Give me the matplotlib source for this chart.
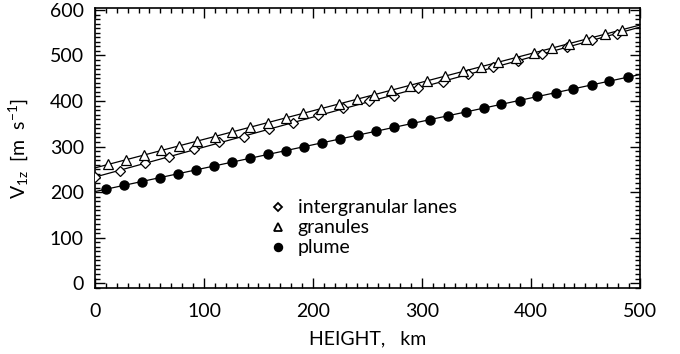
import numpy as np
import matplotlib
matplotlib.use('Agg')
import matplotlib.pyplot as plt
from matplotlib.ticker import MultipleLocator

# heights (km) and velocities (m/s)
gran_x = [12, 28, 45, 61, 77, 94, 110, 126, 142, 159, 175, 191, 207, 224, 240,
          256, 272, 289, 305, 321, 338, 354, 370, 386, 403, 419, 435, 451, 468, 484]
gran_y = [261, 271, 281, 292, 301, 312, 322, 333, 342, 352, 363, 373, 383, 394, 404,
          414, 424, 434, 444, 455, 465, 475, 486, 495, 506, 516, 526, 536, 547, 557]

inter_x = [0, 23, 46, 68, 91, 114, 137, 160, 182, 205, 228,
           251, 274, 296, 319, 342, 365, 388, 410, 433, 456, 479]
inter_y = [234, 246, 264, 276, 294, 309, 322, 339, 352, 369, 384,
           399, 412, 429, 442, 459, 474, 488, 503, 518, 534, 547]

plume_x = [10, 27, 43, 60, 76, 93, 109, 126, 142, 159, 175, 192, 208, 225, 241,
           258, 274, 291, 307, 324, 340, 357, 373, 390, 406, 423, 439, 456, 472, 489]
plume_y = [206, 215, 223, 232, 240, 249, 257, 266, 274, 283, 291, 300, 308, 317, 325,
           334, 342, 351, 359, 368, 376, 385, 393, 401, 410, 418, 427, 435, 444, 452]

labels = ['intergranular lanes', 'granules', 'plume']

plt.rcParams['font.family'] = ['Lato', 'DejaVu Sans']
plt.rcParams['mathtext.fontset'] = 'custom'
plt.rcParams['mathtext.rm'] = 'Lato'
plt.rcParams['mathtext.it'] = 'Lato'
fig = plt.figure(figsize=(6.8, 3.54), dpi=100)
ax = fig.add_axes([0.1397, 0.186, 0.8013, 0.791])

xx = np.array([0, 500])
for x, y in [(gran_x, gran_y), (inter_x, inter_y), (plume_x, plume_y)]:
    p = np.polyfit(x, y, 1)
    ax.plot(xx, np.polyval(p, xx), color='black', lw=0.9, zorder=2)

ax.plot(inter_x, inter_y, 'D', ms=5.5, mfc='white', mec='black', mew=0.9, ls='none', zorder=3)
ax.plot(gran_x, gran_y, '^', ms=7.5, mfc='white', mec='black', mew=0.9, ls='none', zorder=3)
ax.plot(plume_x, plume_y, 'o', ms=6.5, mfc='black', mec='black', ls='none', zorder=3)

# legend drawn as text + markers like the original
leg_y = [167, 123, 79]
leg_m = [('D', 4.2, 'white'), ('^', 5.5, 'white'), ('o', 5.5, 'black')]
for yy, (m, s, fc), lab in zip(leg_y, leg_m, labels):
    ax.plot([168], [yy], m, ms=s, mfc=fc, mec='black', mew=1.3, ls='none')
    ax.text(186, yy, lab, fontsize=14, va='center', ha='left')

ax.set_xlim(0, 500)
ax.set_ylim(-11, 604)
ax.xaxis.set_major_locator(MultipleLocator(100))
ax.xaxis.set_minor_locator(MultipleLocator(10))
ax.yaxis.set_major_locator(MultipleLocator(100))
ax.yaxis.set_minor_locator(MultipleLocator(10))
ax.tick_params(which='both', direction='in', top=True, right=True, width=1)
ax.tick_params(which='major', length=7, labelsize=14, pad=8)
ax.tick_params(axis='x', which='major', pad=11)
ax.tick_params(which='minor', length=3.5)
for s in ax.spines.values():
    s.set_linewidth(1.2)

ax.set_xlabel('HEIGHT,   km', fontsize=14, labelpad=7)
ax.set_ylabel(r'V$_{1z}$  [m  s$^{-1}$]', fontsize=14, labelpad=14)

fig.savefig('out.png', dpi=100)
